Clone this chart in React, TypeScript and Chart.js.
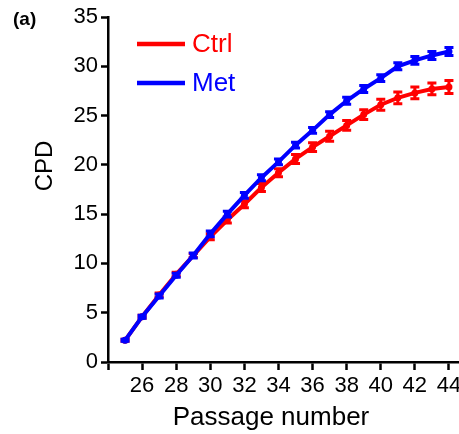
import React, { useEffect, useRef } from "react";
import { Chart, registerables } from "chart.js";

Chart.register(...registerables);

const PASSAGES = [25, 26, 27, 28, 29, 30, 31, 32, 33, 34, 35, 36, 37, 38, 39, 40, 41, 42, 43, 44];
const CTRL = [2.2, 4.6, 6.8, 8.9, 10.8, 12.7, 14.4, 16.0, 17.7, 19.2, 20.6, 21.8, 22.9, 24.0, 25.1, 26.1, 26.8, 27.3, 27.7, 27.9];
const MET = [2.2, 4.6, 6.7, 8.8, 10.8, 13.0, 15.0, 16.9, 18.7, 20.3, 22.0, 23.5, 25.1, 26.5, 27.7, 28.8, 30.0, 30.6, 31.1, 31.5];
const CTRL_ERR = [0.1, 0.15, 0.2, 0.2, 0.2, 0.3, 0.3, 0.35, 0.4, 0.4, 0.45, 0.45, 0.5, 0.5, 0.5, 0.55, 0.6, 0.6, 0.6, 0.65];
const MET_ERR = [0.1, 0.15, 0.2, 0.2, 0.25, 0.3, 0.3, 0.3, 0.3, 0.3, 0.3, 0.3, 0.3, 0.35, 0.35, 0.35, 0.35, 0.4, 0.4, 0.4];
const X_TICKS = [24, 26, 28, 30, 32, 34, 36, 38, 40, 42, 44];
const Y_TICKS = [0, 5, 10, 15, 20, 25, 30, 35];
const SERIES_LABELS = ["Ctrl", "Met"];
const X_TITLE = "Passage number";
const Y_TITLE = "CPD";
const PANEL_LABEL = "(a)";

const FONT = "'Liberation Sans', Arial, sans-serif";

export default function App() {
  const ref = useRef<HTMLCanvasElement | null>(null);

  useEffect(() => {
    const canvas = ref.current;
    if (!canvas) return;
    const errs = [CTRL_ERR, MET_ERR];

    const errorBars = {
      id: "errorBars",
      afterDatasetDraw(chart: any, args: any) {
        const i = args.index;
        const meta = chart.getDatasetMeta(i);
        const ds = chart.data.datasets[i];
        const ys = chart.scales.y;
        const ctx = chart.ctx;
        ctx.save();
        ctx.strokeStyle = ds.borderColor;
        ctx.lineWidth = 3;
        meta.data.forEach((pt: any, j: number) => {
          const v = ds.data[j].y;
          const e = errs[i][j];
          const yt = ys.getPixelForValue(v + e);
          const yb = ys.getPixelForValue(v - e);
          const x = pt.x;
          ctx.beginPath();
          ctx.moveTo(x, yt);
          ctx.lineTo(x, yb);
          ctx.moveTo(x - 4.5, yt);
          ctx.lineTo(x + 4.5, yt);
          ctx.moveTo(x - 4.5, yb);
          ctx.lineTo(x + 4.5, yb);
          ctx.stroke();
        });
        ctx.restore();
      },
    };

    const decorations = {
      id: "decorations",
      afterDraw(chart: any) {
        const ctx = chart.ctx;
        ctx.save();
        // legend
        const rows = [
          { y: 44, ty: 45 },
          { y: 83, ty: 84 },
        ];
        chart.data.datasets.forEach((ds: any, i: number) => {
          const r = rows[i];
          ctx.strokeStyle = ds.borderColor;
          ctx.lineWidth = 4.5;
          ctx.beginPath();
          ctx.moveTo(137, r.y);
          ctx.lineTo(185, r.y);
          ctx.stroke();
          ctx.fillStyle = ds.borderColor;
          ctx.font = `26px ${FONT}`;
          ctx.textAlign = "left";
          ctx.textBaseline = "middle";
          ctx.fillText(ds.label, 192, r.ty);
        });
        // axis titles
        ctx.fillStyle = "#000";
        ctx.font = `26px ${FONT}`;
        ctx.textAlign = "center";
        ctx.textBaseline = "middle";
        ctx.fillText(X_TITLE, 271, 418);
        ctx.save();
        ctx.translate(45, 166);
        ctx.rotate(-Math.PI / 2);
        ctx.font = `24px ${FONT}`;
        ctx.fillText(Y_TITLE, 0, 0);
        ctx.restore();
        // panel label
        ctx.font = `bold 19px ${FONT}`;
        ctx.textAlign = "left";
        ctx.fillText(PANEL_LABEL, 13, 20);
        ctx.restore();
      },
    };

    const chart = new Chart(canvas, {
      type: "line",
      data: {
        datasets: [
          {
            label: SERIES_LABELS[0],
            data: PASSAGES.map((p, i) => ({ x: p, y: CTRL[i] })),
            borderColor: "#ff0000",
            backgroundColor: "#ff0000",
            borderWidth: 4,
            pointRadius: 3.5,
            pointBorderWidth: 0,
            tension: 0,
            order: 2,
          },
          {
            label: SERIES_LABELS[1],
            data: PASSAGES.map((p, i) => ({ x: p, y: MET[i] })),
            borderColor: "#0000ff",
            backgroundColor: "#0000ff",
            borderWidth: 4,
            pointRadius: 3.5,
            pointBorderWidth: 0,
            tension: 0,
            order: 1,
          },
        ],
      },
      options: {
        animation: false,
        responsive: false,
        devicePixelRatio: 1,
        layout: { padding: { top: 17, left: 0, right: 1, bottom: 0 } },
        plugins: { legend: { display: false }, tooltip: { enabled: false } },
        scales: {
          x: {
            type: "linear",
            min: 24,
            max: 45,
            afterBuildTicks: (s: any) => {
              s.ticks = X_TICKS.map((v) => ({ value: v }));
            },
            afterFit: (s: any) => {
              s.height = 72;
            },
            ticks: {
              autoSkip: false,
              maxRotation: 0,
              padding: 3,
              color: "#000",
              font: { family: FONT, size: 22 },
              callback: (v: any) => (v === 24 ? "" : String(v)),
            },
            grid: {
              display: true,
              drawOnChartArea: false,
              drawTicks: true,
              tickLength: 8,
              tickWidth: 2.5,
              tickColor: "#000",
            },
            border: { display: true, color: "#000", width: 2.5 },
          },
          y: {
            type: "linear",
            min: 0,
            max: 35,
            afterBuildTicks: (s: any) => {
              s.ticks = Y_TICKS.map((v) => ({ value: v }));
            },
            afterFit: (s: any) => {
              s.width = 108;
            },
            ticks: {
              padding: 3,
              color: "#000",
              font: { family: FONT, size: 22 },
            },
            grid: {
              display: true,
              drawOnChartArea: false,
              drawTicks: true,
              tickLength: 7,
              tickWidth: 2.5,
              tickColor: "#000",
            },
            border: { display: true, color: "#000", width: 2.5 },
          },
        },
      },
      plugins: [errorBars, decorations],
    } as any);

    return () => chart.destroy();
  }, []);

  return (
    <div
      style={{
        position: "fixed",
        left: 0,
        top: 0,
        width: 459,
        height: 434,
        overflow: "hidden",
        background: "#fff",
      }}
    >
      <canvas ref={ref} width={470} height={434} style={{ display: "block" }} />
    </div>
  );
}
